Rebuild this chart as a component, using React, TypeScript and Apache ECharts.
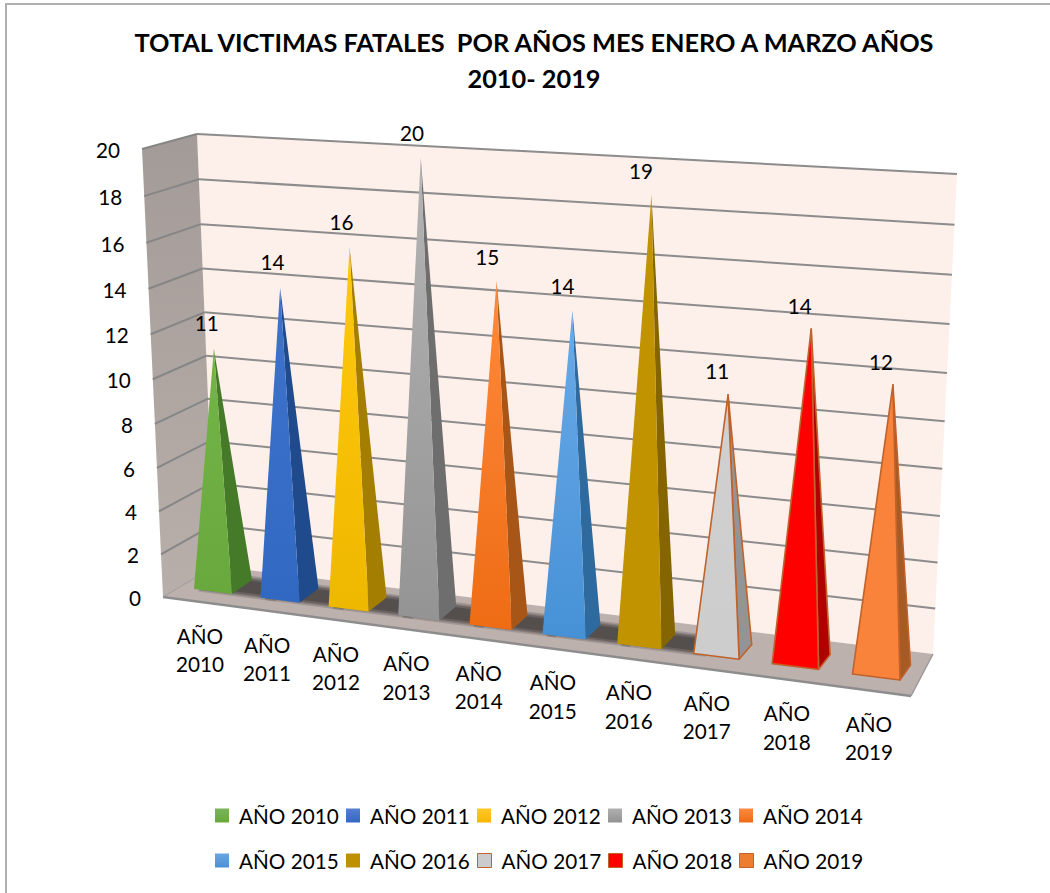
import React, { useEffect, useRef } from "react";
import * as echarts from "echarts";

const YEARS = ["AÑO 2010", "AÑO 2011", "AÑO 2012", "AÑO 2013", "AÑO 2014", "AÑO 2015", "AÑO 2016", "AÑO 2017", "AÑO 2018", "AÑO 2019"];
const VALUES = [11, 14, 16, 20, 15, 14, 19, 11, 14, 12];
const Y_TICKS = [0, 2, 4, 6, 8, 10, 12, 14, 16, 18, 20];
const TITLE = "TOTAL VICTIMAS FATALES  POR AÑOS MES ENERO A MARZO AÑOS\n2010- 2019";

const FRONT_TOP = ["#74b548", "#3f73cc", "#ffc90e", "#b4b4b4", "#ff8a3c", "#6aaae8", "#c29300", "#d0d0d0", "#ff0000", "#f9833a"];
const FRONT_BOTTOM = ["#68a83c", "#3169c2", "#efb800", "#949494", "#ee6c14", "#4691d6", "#c29300", "#cdcdcd", "#ff0000", "#f9833a"];
const SIDE = ["#447a28", "#1f4a8c", "#a47e00", "#6e6e6e", "#a85618", "#2f6a9e", "#846500", "#949494", "#b00000", "#a65a24"];
const OUTLINE = [null, null, null, null, null, null, null, "#c0622a", "#c0622a", "#c0622a"];
const LEGEND_TOP = ["#7ab55a", "#5580cf", "#ffc82a", "#b0b0b0", "#fa8a42", "#6aa6e0", "#bf9000", "#cbcbcb", "#ff0000", "#ed7d31"];
const LEGEND_BOTTOM = ["#68a83c", "#3169c2", "#f5b800", "#929292", "#ee6c14", "#4d91d4", "#bf9000", "#cbcbcb", "#ff0000", "#ed7d31"];

type Pt = [number, number];
// corners: s=0,n=0 / s=1,n=0 / s=1,n=1 / s=0,n=1
const BACK: Pt[] = [[215, 566], [933, 654], [957, 174], [197, 134]];
const FRONT: Pt[] = [[163, 597], [911, 696], [935, 216], [142, 149]];
const MID: Pt[] = [[223, 584.5], [881.5, 669.5], [901, 184], [206, 146]];

function homography(q: Pt[]) {
  const [[x0, y0], [x1, y1], [x2, y2], [x3, y3]] = q;
  const dx1 = x1 - x2, dx2 = x3 - x2, sx = x0 - x1 + x2 - x3;
  const dy1 = y1 - y2, dy2 = y3 - y2, sy = y0 - y1 + y2 - y3;
  const den = dx1 * dy2 - dx2 * dy1;
  const g = (sx * dy2 - dx2 * sy) / den;
  const h = (dx1 * sy - sx * dy1) / den;
  const a = x1 - x0 + g * x1, b = x3 - x0 + h * x3;
  const d = y1 - y0 + g * y1, e = y3 - y0 + h * y3;
  return (s: number, n: number): Pt => {
    const w = g * s + h * n + 1;
    return [(a * s + b * n + x0) / w, (d * s + e * n + y0) / w];
  };
}
const backP = homography(BACK);
const frontP = homography(FRONT);
const midP = homography(MID);

const FONT = "Lato";
const lerp = (a: number, b: number, t: number) => a + (b - a) * t;
const vGrad = (top: string, bottom: string) => ({
  type: "linear", x: 0, y: 0, x2: 0, y2: 1,
  colorStops: [{ offset: 0, color: top }, { offset: 1, color: bottom }],
});

// normalised position of a data point, read through the grid's own scales
function unit(params: any, api: any, x: number, y: number): Pt {
  const cs = params.coordSys;
  const p = api.coord([x, y]);
  return [(p[0] - cs.x) / cs.width, (cs.y + cs.height - p[1]) / cs.height];
}

function baseCorners(c: Pt, s: number) {
  const fl: Pt = [c[0] - 29, c[1] + 4.5];
  const fr: Pt = [c[0] + lerp(9, 18.5, s), c[1] + lerp(9.5, 10.5, s)];
  const br: Pt = [c[0] + 29, c[1] - 4.5];
  const bl: Pt = [c[0] - lerp(9, 18.5, s), c[1] - lerp(9.5, 10.5, s)];
  return { fl, fr, br, bl };
}

function renderRoom() {
  const poly = (points: Pt[], fill: any) => ({
    type: "polygon",
    shape: { points },
    style: { fill },
  });
  const line = (a: Pt, b: Pt, stroke: string, lineWidth: number) => ({
    type: "line",
    shape: { x1: a[0], y1: a[1], x2: b[0], y2: b[1] },
    style: { stroke, lineWidth },
  });
  return {
    type: "group",
    children: [
      poly([backP(0, 0), backP(1, 0), backP(1, 1), backP(0, 1)], "#fdefea"),
      poly([frontP(0, 0), backP(0, 0), backP(0, 1), frontP(0, 1)], vGrad("#a39b97", "#b8afab")),
      poly([frontP(0, 0), frontP(1, 0), backP(1, 0), backP(0, 0)], "#bdb1ae"),
      line(frontP(0, 0), frontP(1, 0), "#8d8d8d", 2.5),
      line(frontP(1, 0), backP(1, 0), "#9a9a9a", 1.5),
      line(frontP(0, 0), backP(0, 0), "#9a9a9a", 1),
    ],
  };
}

function renderTick(params: any, api: any) {
  const v = api.value(1);
  const [, n] = unit(params, api, 0, v);
  const b0 = backP(0, n), b1 = backP(1, n), f0 = frontP(0, n);
  const children: any[] = [
    {
      type: "text",
      style: {
        text: String(v), x: f0[0] - 22, y: f0[1] + 1, align: "right", verticalAlign: "middle",
        fontFamily: FONT, fontSize: 20.7, fill: "#000",
      },
    },
  ];
  if (v > 0) {
    children.push(
      { type: "line", shape: { x1: b0[0], y1: b0[1], x2: b1[0], y2: b1[1] }, style: { stroke: "#8c8c8c", lineWidth: 2 } },
      { type: "line", shape: { x1: f0[0], y1: f0[1], x2: b0[0], y2: b0[1] }, style: { stroke: "#868686", lineWidth: 2 } },
    );
  }
  return { type: "group", children };
}

function renderShadow(params: any, api: any) {
  const i = api.value(0);
  const [s] = unit(params, api, i, 0);
  const c = midP(s, 0);
  const { fl, fr, br, bl } = baseCorners(c, s);
  const slope = 0.125;
  const shift = (p: Pt, k: number, dy = 0): Pt => [p[0] + k, p[1] + k * slope + dy];
  // concentric layers stand in for the soft edge of the reference's floor shadow
  const layer = (grow: number, opacity: number) => ({
    type: "polygon",
    shape: {
      points: [
        shift(bl, -grow, -grow),
        shift(br, 30 + grow, -grow),
        shift(fr, 40 + grow, grow - 2),
        shift(fl, 8 - grow, grow - 2),
      ],
    },
    style: { fill: "#3f3a3a", opacity },
  });
  return {
    type: "group",
    children: [layer(4, 0.22), layer(2.5, 0.28), layer(1, 0.4), layer(-1, 0.5)],
  };
}

function makePyramid(k: number) {
  return (params: any, api: any) => {
    const i = api.value(0);
    const v = api.value(1);
    const [s] = unit(params, api, i, 0);
    const c = midP(s, 0);
    const [sa, na] = unit(params, api, i, v);
    const apex = midP(sa, na);
    const { fl, fr, br } = baseCorners(c, s);
    const stroke = OUTLINE[k];
    const edge = stroke ? { stroke, lineWidth: 1.6, lineJoin: "round" } : {};
    const lo = [lerp(-7, -12, s), lerp(-25.5, -23, s)];
    const cat = [c[0] + lerp(-23, -12.5, s) - 6 * s * (1 - s), c[1] + lerp(65.5, 68.5, s)];
    return {
      type: "group",
      children: [
        { type: "polygon", shape: { points: [fr, br, apex] }, style: { fill: SIDE[k], ...edge } },
        {
          type: "polygon",
          shape: { points: [fl, fr, apex] },
          style: { fill: vGrad(FRONT_TOP[k], FRONT_BOTTOM[k]), ...edge },
        },
        {
          type: "text",
          style: {
            text: String(v), x: apex[0] + lo[0], y: apex[1] + lo[1], align: "center", verticalAlign: "middle",
            fontFamily: FONT, fontSize: 20.7, fill: "#000",
          },
        },
        {
          type: "text",
          style: {
            text: YEARS[k].replace(" ", "\n"), x: cat[0], y: cat[1], align: "center", verticalAlign: "middle",
            fontFamily: FONT, fontSize: 20.7, lineHeight: 28.5, fill: "#000",
          },
        },
      ],
    };
  };
}

const baseSeries = {
  type: "custom",
  coordinateSystem: "cartesian2d",
  silent: true,
  clip: false,
  animation: false,
};

export default function App() {
  const ref = useRef<HTMLDivElement>(null);
  useEffect(() => {
    const chart = echarts.init(ref.current!, undefined, { renderer: "svg" });
    chart.setOption({
      animation: false,
      backgroundColor: "#ffffff",
      title: {
        text: TITLE,
        left: 529,
        top: 19,
        textAlign: "center",
        textStyle: { fontFamily: FONT, fontWeight: "bold", fontSize: 25.3, color: "#000", lineHeight: 36 },
      },
      grid: { left: 100, top: 100, width: 800, height: 500, show: false },
      xAxis: { type: "category", data: YEARS, boundaryGap: false, show: false },
      yAxis: { type: "value", min: 0, max: 20, interval: 2, show: false },
      legend: YEARS.map((name, k) => ({
        left: 215 + 131 * (k % 5),
        top: k < 5 ? 805 : 850,
        padding: 0,
        selectedMode: false,
        itemWidth: 14,
        itemHeight: 14,
        textStyle: { fontFamily: FONT, fontSize: 20.7, color: "#000", padding: [0, 0, 0, 5] },
        data: [{
          name,
          icon: "rect",
          itemStyle: {
            color: vGrad(LEGEND_TOP[k], LEGEND_BOTTOM[k]),
            borderColor: OUTLINE[k] || undefined,
            borderWidth: OUTLINE[k] ? 1 : 0,
          },
        }],
      })),
      graphic: [
        { type: "line", shape: { x1: 5, y1: 4, x2: 1050, y2: 4 }, style: { stroke: "#b0b0b0", lineWidth: 2 } },
        { type: "line", shape: { x1: 6, y1: 3, x2: 6, y2: 893 }, style: { stroke: "#b0b0b0", lineWidth: 2 } },
      ],
      series: [
        { ...baseSeries, name: "room", z: 1, data: [[0, 0]], renderItem: renderRoom },
        { ...baseSeries, name: "ticks", z: 2, data: Y_TICKS.map((v) => [0, v]), renderItem: renderTick },
        { ...baseSeries, name: "shadow", z: 3, data: VALUES.slice(0, 7).map((_, i) => [i, 0]), renderItem: renderShadow },
        ...YEARS.map((name, k) => ({
          ...baseSeries,
          name,
          z: 4 + k,
          itemStyle: { color: LEGEND_BOTTOM[k] },
          data: [[k, VALUES[k]]],
          renderItem: makePyramid(k),
        })),
      ],
    });
    return () => chart.dispose();
  }, []);
  return <div ref={ref} style={{ position: "absolute", left: 0, top: 0, width: 1050, height: 893 }} />;
}
